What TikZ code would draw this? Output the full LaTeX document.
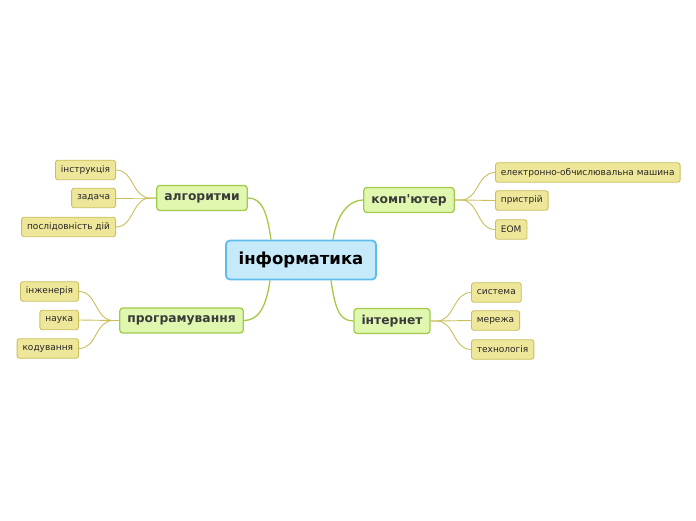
\documentclass[tikz,border=0pt]{standalone}
\usepackage{fontspec}
\setmainfont{DejaVu Sans}[Ligatures=TeXOff]
\definecolor{cfill}{HTML}{C7EAFB}
\definecolor{cdraw}{HTML}{5DBDEA}
\definecolor{mfill}{HTML}{DFF7AE}
\definecolor{mdraw}{HTML}{A2CB4E}
\definecolor{mline}{HTML}{A5C944}
\definecolor{lfill}{HTML}{EEE79A}
\definecolor{ldraw}{HTML}{CABF5E}
\definecolor{lline}{HTML}{C9BE5C}
\definecolor{mtext}{HTML}{3A3A3A}
\tikzset{
  central/.style={draw=cdraw, fill=cfill, line width=1.8pt, rounded corners=4pt,
    minimum width=150pt, minimum height=39pt, inner sep=0pt,
    font=\fontsize{16.5}{18}\selectfont\bfseries, text=black},
  topic/.style={draw=mdraw, fill=mfill, line width=1.3pt, rounded corners=3pt,
    minimum height=25pt, inner xsep=7.5pt, inner ysep=0pt,
    font=\fontsize{12.3}{14}\selectfont\bfseries, text=mtext},
  leaf/.style={draw=ldraw, fill=lfill, line width=0.9pt, rounded corners=2.5pt,
    minimum height=19.5pt, inner xsep=5.5pt, inner ysep=0pt,
    font=\fontsize{9}{11}\selectfont, text=black!85},
  mainline/.style={draw=mline, line width=1.3pt},
  leafline/.style={draw=lline, line width=0.9pt},
}
\begin{document}
\begin{tikzpicture}[x=1pt,y=1pt]
\useasboundingbox (0,0) rectangle (696,520);
% central
\node[central] (c) at (301,260) {інформатика};
% topics
\node[topic] (alg) at (202,322) {алгоритми};
\node[topic] (komp) at (409,320) {комп'ютер};
\node[topic] (prog) at (181.5,199.5) {програмування};
\node[topic] (int) at (392,199) {інтернет};
% leaves
\node[leaf, anchor=east] (a1) at (116,350) {інструкція};
\node[leaf, anchor=east] (a2) at (116,322) {задача};
\node[leaf, anchor=east] (a3) at (116,293) {послідовність дій};
\node[leaf, anchor=west] (k1) at (495,347.5) {електронно-обчислювальна машина};
\node[leaf, anchor=west] (k2) at (495,319.5) {пристрій};
\node[leaf, anchor=west] (k3) at (495,290.5) {ЕОМ};
\node[leaf, anchor=east] (p1) at (79,228.5) {інженерія};
\node[leaf, anchor=east] (p2) at (79,200) {наука};
\node[leaf, anchor=east] (p3) at (79,171.5) {кодування};
\node[leaf, anchor=west] (n1) at (471,227.5) {система};
\node[leaf, anchor=west] (n2) at (471,199.5) {мережа};
\node[leaf, anchor=west] (n3) at (471,170.5) {технологія};
% main connectors
\draw[mainline] ([xshift=-30pt]c.north) .. controls +(-4pt,28pt) and +(14pt,0pt) .. (alg.east);
\draw[mainline] ([xshift=32pt]c.north) .. controls +(4pt,26pt) and +(-14pt,0pt) .. (komp.west);
\draw[mainline] ([xshift=-31pt]c.south) .. controls +(-4pt,-28pt) and +(14pt,0pt) .. (prog.east);
\draw[mainline] ([xshift=30pt]c.south) .. controls +(4pt,-28pt) and +(-14pt,0pt) .. (int.west);
% leaf connectors
\foreach \l in {a1,a2,a3}
  \draw[leafline] (alg.west) -- ++(-6pt,0pt) .. controls +(-18pt,0pt) and +(18pt,0pt) .. (\l.east);
\foreach \l in {k1,k2,k3}
  \draw[leafline] (komp.east) -- ++(6pt,0pt) .. controls +(18pt,0pt) and +(-18pt,0pt) .. (\l.west);
\foreach \l in {p1,p2,p3}
  \draw[leafline] (prog.west) -- ++(-6pt,0pt) .. controls +(-18pt,0pt) and +(18pt,0pt) .. (\l.east);
\foreach \l in {n1,n2,n3}
  \draw[leafline] (int.east) -- ++(6pt,0pt) .. controls +(18pt,0pt) and +(-18pt,0pt) .. (\l.west);
\end{tikzpicture}
\end{document}
